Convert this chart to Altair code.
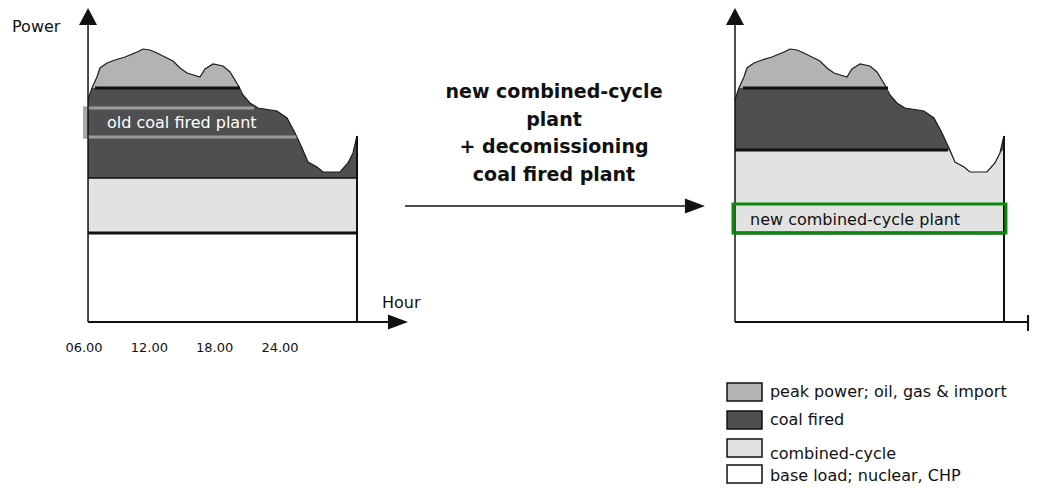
import altair as alt
import pandas as pd

# ---------------- values ----------------
# load curve (same daily curve in both diagrams): hour, power (arbitrary units)
hours = [6.37, 6.73, 7.19, 7.47, 8.11, 8.85, 9.76, 10.87, 11.42, 12.06,
         12.70, 13.62, 14.17, 14.82, 15.46, 16.65, 17.11, 17.85, 18.76, 19.41,
         20.14, 20.60, 21.24, 21.98, 23.72, 24.64, 25.38, 26.02, 26.57, 27.40,
         27.95, 29.51, 30.24, 30.70, 30.98, 31.07]
load = [22.2, 23.4, 24.5, 25.4, 25.9, 26.2, 26.5, 27.0, 27.3, 27.2,
        26.9, 26.4, 26.1, 25.4, 24.9, 24.5, 25.3, 25.8, 25.6, 25.0,
        23.7, 22.7, 21.9, 21.4, 21.1, 20.4, 18.9, 17.4, 16.0, 15.5,
        15.0, 15.0, 15.9, 16.9, 18.2, 18.6]

panel_names = ["before", "after"]
base_top = [8.9, 8.9]        # top of base load (nuclear, CHP)
cc_top = [14.4, 17.2]        # top of combined-cycle
coal_top = [23.4, 23.4]      # top of coal fired
old_coal_band = [18.5, 21.4]  # old coal fired plant (left diagram)
old_coal_span = [25.5, 21.6]  # right ends of the band edges (where they meet the curve)
new_cc_band = [8.9, 11.8]     # new combined-cycle plant (right diagram)
coal_span = [[7.01, 20.33], [7.10, 20.42]]   # where curve is above coal top
cc_span_after = [6.37, 25.93]                # where curve is above cc top (right)

tick_hours = [6, 12, 18, 24]
tick_labels = ["06.00", "12.00", "18.00", "24.00"]

legend_labels = ["peak power; oil, gas & import", "coal fired",
                 "combined-cycle", "base load; nuclear, CHP"]
middle_lines = ["new combined-cycle", "plant", "+ decomissioning", "coal fired plant"]

# ---------------- layout / style ----------------
SHIFT = [0.0, 59.41]          # horizontal placement of the two diagrams (hours)
X_START, X_END = 6.37, 31.07  # plot box of one diagram
Y_AXIS_TOP, ARROW_TIP = 29.8, 31.4
PEAK, COAL, CC, BASE = "#b3b3b3", "#4f4f4f", "#e2e2e2", "#ffffff"
GREY_LINE, GREEN, INK = "#9c9c9c", "#0b8a0b", "#111111"
FONT = "DejaVu Sans"

W, H = 1022, 476
XS = alt.Scale(domain=[-0.979, 92.87], nice=False, zero=False)
YS = alt.Scale(domain=[-16.2, 31.4], nice=False, zero=False)


def X(f="x"):
    return alt.X(f"{f}:Q", scale=XS, axis=None)


def Y(f="y"):
    return alt.Y(f"{f}:Q", scale=YS, axis=None, stack=None)


# curve table for both panels
rows = []
for i, p in enumerate(panel_names):
    for h, v in zip(hours, load):
        rows.append(dict(panel=p, x=h + SHIFT[i], load=v, zero=0.0,
                         base_top=base_top[i], cc_top=cc_top[i], coal_top=coal_top[i]))
curve = pd.DataFrame(rows)

peak_area = alt.Chart(curve).mark_area(color=PEAK).encode(
    x=X(), y=Y("load"), y2=alt.Y2("zero:Q"), detail="panel:N")
coal_area = alt.Chart(curve).transform_calculate(
    yc="min(datum.load, datum.coal_top)").mark_area(color=COAL).encode(
    x=X(), y=Y("yc"), y2=alt.Y2("zero:Q"), detail="panel:N")
cc_area = alt.Chart(curve).transform_calculate(
    yc="min(datum.load, datum.cc_top)").mark_area(color=CC).encode(
    x=X(), y=Y("yc"), y2=alt.Y2("zero:Q"), detail="panel:N")
base_area = alt.Chart(curve).transform_calculate(
    yc="min(datum.load, datum.base_top)").mark_area(color=BASE).encode(
    x=X(), y=Y("yc"), y2=alt.Y2("zero:Q"), detail="panel:N")
outline = alt.Chart(curve).mark_line(color="#1c1c1c", strokeWidth=1.2).encode(
    x=X(), y=Y("load"), detail="panel:N")

# horizontal boundary lines
s0, s1 = SHIFT
hl = pd.DataFrame([
    dict(x=coal_span[0][0] + s0, x2=coal_span[0][1] + s0, y=coal_top[0], k="thick"),
    dict(x=X_START + s0, x2=X_END + s0, y=base_top[0], k="thick"),
    dict(x=X_START + s0, x2=X_END + s0, y=cc_top[0], k="thin"),
    dict(x=coal_span[1][0] + s1, x2=coal_span[1][1] + s1, y=coal_top[1], k="thick"),
    dict(x=cc_span_after[0] + s1, x2=cc_span_after[1] + s1, y=cc_top[1], k="thick"),
    dict(x=X_START + s1, x2=X_END + s1, y=base_top[1], k="thick"),
    dict(x=5.91 + s0, x2=old_coal_span[1] + s0, y=old_coal_band[1], k="grey"),
    dict(x=5.91 + s0, x2=old_coal_span[0] + s0, y=old_coal_band[0], k="grey"),
    dict(x=X_START + s0, x2=35.0, y=0.0, k="axis"),
    dict(x=X_START + s1, x2=92.69, y=0.0, k="axis"),
    dict(x=35.48, x2=62.3, y=11.6, k="arrow"),
])


def hrule(kind, color, width):
    return alt.Chart(hl).transform_filter(alt.datum.k == kind).mark_rule(
        color=color, strokeWidth=width).encode(x=X(), x2=alt.X2("x2:Q"), y=Y())


vl = pd.DataFrame([
    dict(x=X_START + s0, y=0.0, y2=Y_AXIS_TOP, k="axis"),
    dict(x=X_START + s1, y=0.0, y2=Y_AXIS_TOP, k="axis"),
    dict(x=X_END + s0, y=0.0, y2=load[-1], k="edge"),
    dict(x=X_END + s1, y=0.0, y2=load[-1], k="edge"),
    dict(x=92.69, y=-0.9, y2=0.7, k="edge"),
])


def vrule(kind, width):
    return alt.Chart(vl).transform_filter(alt.datum.k == kind).mark_rule(
        color=INK, strokeWidth=width).encode(x=X(), y=Y(), y2=alt.Y2("y2:Q"))


# old coal plant grey tab left of the axis
old_tab = alt.Chart(pd.DataFrame(dict(x=[5.91], x2=[X_START], y=[old_coal_band[0]],
                                      y2=[old_coal_band[1]]))).mark_rect(
    color="#a9a9a9").encode(x=X(), x2=alt.X2("x2:Q"), y=Y(), y2=alt.Y2("y2:Q"))

# new combined-cycle plant green box
green_box = alt.Chart(pd.DataFrame(dict(x=[65.60], x2=[90.66], y=[new_cc_band[0]],
                                        y2=[new_cc_band[1]]))).mark_rect(
    fillOpacity=0, stroke=GREEN, strokeWidth=3).encode(
    x=X(), x2=alt.X2("x2:Q"), y=Y(), y2=alt.Y2("y2:Q"))

# arrow heads
up_heads = alt.Chart(pd.DataFrame(dict(x=[X_START + s0, X_START + s1],
                                       y=[ARROW_TIP, ARROW_TIP]))).mark_point(
    shape="M0,0L-1,1.9L1,1.9Z", size=324, filled=True, color=INK, opacity=1,
    strokeWidth=0).encode(x=X(), y=Y())
right_heads = alt.Chart(pd.DataFrame(dict(x=[35.75, 63.02], y=[0.0, 11.6]))).mark_point(
    shape="M0,0L-2.67,-1L-2.67,1Z", size=225, filled=True, color=INK, opacity=1,
    strokeWidth=0).encode(x=X(), y=Y())

# texts
plain_txt = alt.Chart(pd.DataFrame(dict(
    x=[-0.61, 33.36, 67.16], y=[29.5, 1.9, 10.2],
    t=["Power", "Hour", "new combined-cycle plant"]))).mark_text(
    align="left", baseline="middle", font=FONT, fontSize=16, color=INK).encode(
    x=X(), y=Y(), text="t:N")
white_txt = alt.Chart(pd.DataFrame(dict(x=[8.11], y=[19.9], t=["old coal fired plant"]))).mark_text(
    align="left", baseline="middle", font=FONT, fontSize=16, color="#ffffff").encode(
    x=X(), y=Y(), text="t:N")
tick_txt = alt.Chart(pd.DataFrame(dict(x=tick_hours, y=[-2.6] * 4, t=tick_labels))).mark_text(
    align="center", baseline="middle", font=FONT, fontSize=13, color=INK).encode(
    x=X(), y=Y(), text="t:N")
mid_txt = alt.Chart(pd.DataFrame(dict(x=[49.16] * 4, y=[23.0, 20.2, 17.5, 14.7],
                                      t=middle_lines))).mark_text(
    align="center", baseline="middle", font=FONT, fontSize=19, fontWeight="bold",
    color=INK).encode(x=X(), y=Y(), text="t:N")

# legend
leg = pd.DataFrame(dict(label=legend_labels,
                        x=[65.05] * 4, x2=[68.26] * 4,
                        y=[-6.1, -8.9, -11.7, -14.3], y2=[-7.9, -10.7, -13.5, -16.1],
                        tx=[68.99] * 4, ty=[-7.0, -9.8, -13.2, -15.4]))
leg_boxes = alt.Chart(leg).mark_rect(stroke=INK, strokeWidth=1.5).encode(
    x=X(), x2=alt.X2("x2:Q"), y=Y(), y2=alt.Y2("y2:Q"),
    color=alt.Color("label:N", scale=alt.Scale(domain=legend_labels,
                                               range=[PEAK, COAL, CC, BASE]), legend=None))
leg_txt = alt.Chart(leg).mark_text(align="left", baseline="middle", font=FONT,
                                   fontSize=16, color=INK).encode(
    x=X("tx"), y=Y("ty"), text="label:N")

chart = alt.layer(
    peak_area, coal_area, cc_area, base_area, outline,
    hrule("thin", INK, 1.5), hrule("thick", INK, 3), hrule("grey", GREY_LINE, 3),
    old_tab, hrule("axis", INK, 2), hrule("arrow", INK, 1.6),
    vrule("axis", 1.5), vrule("edge", 2),
    green_box, up_heads, right_heads,
    plain_txt, white_txt, tick_txt, mid_txt, leg_boxes, leg_txt,
).properties(
    width=W, height=H, padding=0, autosize=alt.AutoSizeParams(type="none"),
    background="#ffffff",
).configure_view(strokeWidth=0)

chart.save("out.html", embed_options={"renderer": "svg", "actions": False})
